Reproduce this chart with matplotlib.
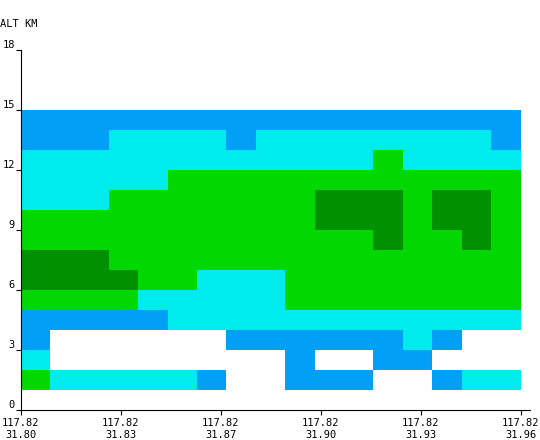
import numpy as np
import matplotlib
matplotlib.use('Agg')
from matplotlib import pyplot as plt
from matplotlib.colors import ListedColormap, BoundaryNorm

# echo level per 1 km row (bottom to top), 17 columns along the path
# 0 none, 1 blue, 2 cyan, 3 green, 4 dark green
grid = [
    [0, 0, 0, 0, 0, 0, 0, 0, 0, 0, 0, 0, 0, 0, 0, 0, 0],
    [3, 2, 2, 2, 2, 2, 1, 0, 0, 1, 1, 1, 0, 0, 1, 2, 2],
    [2, 0, 0, 0, 0, 0, 0, 0, 0, 1, 0, 0, 1, 1, 0, 0, 0],
    [1, 0, 0, 0, 0, 0, 0, 1, 1, 1, 1, 1, 1, 2, 1, 0, 0],
    [1, 1, 1, 1, 1, 2, 2, 2, 2, 2, 2, 2, 2, 2, 2, 2, 2],
    [3, 3, 3, 3, 2, 2, 2, 2, 2, 3, 3, 3, 3, 3, 3, 3, 3],
    [4, 4, 4, 4, 3, 3, 2, 2, 2, 3, 3, 3, 3, 3, 3, 3, 3],
    [4, 4, 4, 3, 3, 3, 3, 3, 3, 3, 3, 3, 3, 3, 3, 3, 3],
    [3, 3, 3, 3, 3, 3, 3, 3, 3, 3, 3, 3, 4, 3, 3, 4, 3],
    [3, 3, 3, 3, 3, 3, 3, 3, 3, 3, 4, 4, 4, 3, 4, 4, 3],
    [2, 2, 2, 3, 3, 3, 3, 3, 3, 3, 4, 4, 4, 3, 4, 4, 3],
    [2, 2, 2, 2, 2, 3, 3, 3, 3, 3, 3, 3, 3, 3, 3, 3, 3],
    [2, 2, 2, 2, 2, 2, 2, 2, 2, 2, 2, 2, 3, 2, 2, 2, 2],
    [1, 1, 1, 2, 2, 2, 2, 1, 2, 2, 2, 2, 2, 2, 2, 2, 1],
    [1, 1, 1, 1, 1, 1, 1, 1, 1, 1, 1, 1, 1, 1, 1, 1, 1],
]
level_colors = ['#ffffff', '#01a0f6', '#00ecec', '#00d800', '#019000']

lon_labels = ['117.82', '117.82', '117.82', '117.82', '117.82', '117.82']
lat_labels = ['31.80', '31.83', '31.87', '31.90', '31.93', '31.96']
alt_ticks = [0, 3, 6, 9, 12, 15, 18]

data = np.array(grid)
ncol = data.shape[1]
nrow = data.shape[0]

fig = plt.figure(figsize=(5.4, 4.4), dpi=100)
ax = fig.add_axes([20.5 / 540, 30 / 440, 509.5 / 540, 360 / 440])

cmap = ListedColormap(level_colors)
norm = BoundaryNorm(np.arange(-0.5, len(level_colors)), cmap.N)
ax.pcolormesh(np.arange(ncol + 1), np.arange(nrow + 1), data,
              cmap=cmap, norm=norm, antialiased=False, edgecolors='none')

ax.set_xlim(0, ncol * 509.5 / 500)
ax.set_ylim(0, 18)

font = dict(family='DejaVu Sans Mono', size=7.5)

xt = np.linspace(0, ncol, len(lat_labels))
ax.set_xticks(xt)
ax.set_xticklabels([a + '\n' + b for a, b in zip(lon_labels, lat_labels)],
                   fontdict=font, linespacing=1.25)
ax.set_yticks(alt_ticks)
ax.set_yticklabels([str(v) for v in alt_ticks], fontdict=font)
for lab in ax.get_yticklabels():
    lab.set_va('bottom')

ax.tick_params(axis='x', direction='out', length=3.5, width=0.8, pad=2)
ax.tick_params(axis='y', direction='out', length=3.5, width=0.8, pad=0.5)

ax.spines['top'].set_visible(False)
ax.spines['right'].set_visible(False)
ax.spines['left'].set_linewidth(0.8)
ax.spines['bottom'].set_linewidth(0.8)

fig.text(0.0, 1 - 27 / 440, 'ALT KM', va='baseline', ha='left', **font)

fig.savefig('out.png', dpi=100)
